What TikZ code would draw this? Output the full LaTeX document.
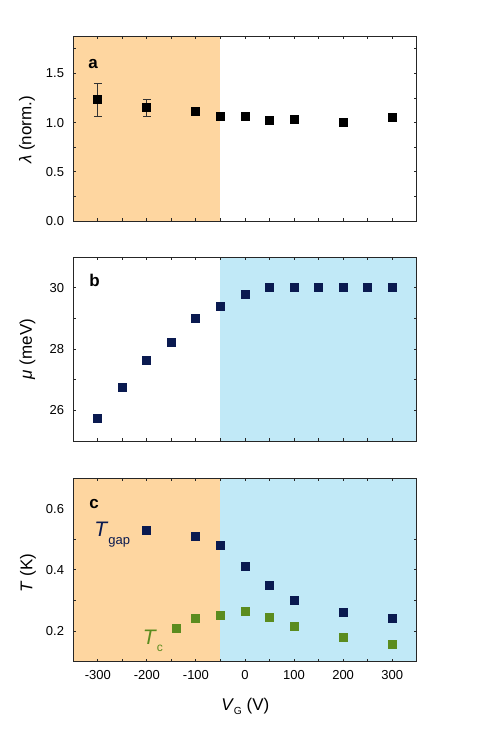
\documentclass[tikz,border=0pt]{standalone}
\usepackage{fontspec}
\setmainfont{Liberation Sans}
\usetikzlibrary{arrows.meta}
\definecolor{shadeorange}{RGB}{254,214,160}
\definecolor{shadeblue}{RGB}{193,233,247}
\definecolor{navy}{RGB}{10,26,80}
\definecolor{leafgreen}{RGB}{91,140,31}
\tikzset{
  mk/.style={rectangle, inner sep=0pt, minimum size=6.75pt},
  ticklab/.style={inner sep=0pt, font=\fontsize{9.75}{10}\selectfont},
  axlab/.style={inner sep=0pt, font=\fontsize{12.75}{13}\selectfont},
  panlab/.style={inner sep=0pt, anchor=base west, font=\fontsize{12.75}{13}\selectfont\bfseries},
  axframe/.style={line width=0.75pt, draw=black!85},
  errbar/.style={line width=0.6pt, draw=black!80, {Bar[width=6pt]}-{Bar[width=6pt]}},
}
\begin{document}
\begin{tikzpicture}[x=0.75pt, y=-0.75pt]
  \useasboundingbox (0,0) rectangle (491,735);
  % panel a
  \begin{scope}[shift={(183.75pt,-165.75pt)}, x=0.36795pt, y=73.8pt]
    \fill[shadeorange] (-350,0) rectangle (-50,1.875);
    \coordinate (e1lo) at (-300,1.064);
    \coordinate (e1hi) at (-300,1.40);
    \coordinate (e2lo) at (-200,1.064);
    \coordinate (e2hi) at (-200,1.237);
    \draw[errbar] (e1lo) -- (e1hi);
    \draw[errbar] (e2lo) -- (e2hi);
    \node[mk, fill=black] (a1) at (-300,1.23) {};
    \node[mk, fill=black] (a2) at (-200,1.151) {};
    \node[mk, fill=black] (a3) at (-100,1.111) {};
    \node[mk, fill=black] (a4) at (-50,1.067) {};
    \node[mk, fill=black] (a5) at (0,1.064) {};
    \node[mk, fill=black] (a6) at (50,1.019) {};
    \node[mk, fill=black] (a7) at (100,1.03) {};
    \node[mk, fill=black] (a8) at (200,1.006) {};
    \node[mk, fill=black] (a9) at (300,1.047) {};
    \foreach \v in {-300,-250,...,300}
      \draw[axframe] (\v,0) -- ++(0pt,2.25pt) (\v,1.875) -- ++(0pt,-2.25pt);
    \foreach \w in {0.25,0.5,...,1.75}
      \draw[axframe] (-350,\w) -- ++(2.25pt,0pt) (350,\w) -- ++(-2.25pt,0pt);
    \draw[axframe] (-350,0) rectangle (350,1.875);
    \foreach \w [count=\i] in {0.0,0.5,1.0,1.5}
      \node[ticklab, anchor=east, xshift=-6.75pt] (tya\i) at (-350,\w) {\w};
  \end{scope}
  % panel b
  \begin{scope}[shift={(183.75pt,-905.81pt)}, x=0.36795pt, y=23pt]
    \fill[shadeblue] (-50,25) rectangle (350,31);
    \node[mk, fill=navy] (b1) at (-300,25.75) {};
    \node[mk, fill=navy] (b2) at (-250,26.74) {};
    \node[mk, fill=navy] (b3) at (-200,27.64) {};
    \node[mk, fill=navy] (b4) at (-150,28.2) {};
    \node[mk, fill=navy] (b5) at (-100,29.0) {};
    \node[mk, fill=navy] (b6) at (-50,29.4) {};
    \node[mk, fill=navy] (b7) at (0,29.78) {};
    \node[mk, fill=navy] (b8) at (50,30) {};
    \node[mk, fill=navy] (b9) at (100,30) {};
    \node[mk, fill=navy] (b10) at (150,30) {};
    \node[mk, fill=navy] (b11) at (200,30) {};
    \node[mk, fill=navy] (b12) at (250,30) {};
    \node[mk, fill=navy] (b13) at (300,30) {};
    \foreach \v in {-300,-250,...,300}
      \draw[axframe] (\v,25) -- ++(0pt,2.25pt) (\v,31) -- ++(0pt,-2.25pt);
    \foreach \w in {26,...,30}
      \draw[axframe] (-350,\w) -- ++(2.25pt,0pt) (350,\w) -- ++(-2.25pt,0pt);
    \draw[axframe] (-350,25) rectangle (350,31);
    \foreach \w [count=\i] in {26,28,30}
      \node[ticklab, anchor=east, xshift=-6.75pt] (tyb\i) at (-350,\w) {\w};
  \end{scope}
  % panel c
  \begin{scope}[shift={(183.75pt,-519.2pt)}, x=0.36795pt, y=229.5pt]
    \fill[shadeorange] (-350,0.1) rectangle (-50,0.7);
    \fill[shadeblue] (-50,0.1) rectangle (350,0.7);
    \node[mk, fill=navy] (g1) at (-200,0.53) {};
    \node[mk, fill=navy] (g2) at (-100,0.51) {};
    \node[mk, fill=navy] (g3) at (-50,0.48) {};
    \node[mk, fill=navy] (g4) at (0,0.41) {};
    \node[mk, fill=navy] (g5) at (50,0.35) {};
    \node[mk, fill=navy] (g6) at (100,0.30) {};
    \node[mk, fill=navy] (g7) at (200,0.26) {};
    \node[mk, fill=navy] (g8) at (300,0.24) {};
    \node[mk, fill=leafgreen] (c1) at (-140,0.21) {};
    \node[mk, fill=leafgreen] (c2) at (-100,0.24) {};
    \node[mk, fill=leafgreen] (c3) at (-50,0.25) {};
    \node[mk, fill=leafgreen] (c4) at (0,0.265) {};
    \node[mk, fill=leafgreen] (c5) at (50,0.245) {};
    \node[mk, fill=leafgreen] (c6) at (100,0.215) {};
    \node[mk, fill=leafgreen] (c7) at (200,0.18) {};
    \node[mk, fill=leafgreen] (c8) at (300,0.155) {};
    \foreach \v in {-300,-250,...,300}
      \draw[axframe] (\v,0.1) -- ++(0pt,2.25pt) (\v,0.7) -- ++(0pt,-2.25pt);
    \foreach \w in {0.2,0.3,...,0.6}
      \draw[axframe] (-350,\w) -- ++(2.25pt,0pt) (350,\w) -- ++(-2.25pt,0pt);
    \draw[axframe] (-350,0.1) rectangle (350,0.7);
    \foreach \w [count=\i] in {0.2,0.4,0.6}
      \node[ticklab, anchor=east, xshift=-6.75pt] (tyc\i) at (-350,\w) {\w};
    \foreach \v [count=\i] in {-300,-200,-100,0,100,200,300}
      \node[ticklab, anchor=north, yshift=-6.2pt] (tx\i) at (\v,0.1) {\v};
  \end{scope}
  % labels
  \node[panlab] (la) at (88,69) {a};
  \node[panlab] (lb) at (89,286) {b};
  \node[panlab] (lc) at (89,508.3) {c};
  \node[axlab, rotate=90] (ya) at (27,130) {\textit{λ} (norm.)};
  \node[axlab, rotate=90] (yb) at (27.5,349) {\textit{μ} (meV)};
  \node[axlab, rotate=90] (yc) at (28,573) {\textit{T} (K)};
  \node[axlab, anchor=base west] (xc) at (221,710.7)
    {\textit{V}\raisebox{-3.2pt}{\fontsize{7.7}{8}\selectfont G} (V)};
  \node[inner sep=0pt, anchor=base west, text=navy, font=\fontsize{15.75}{16}\selectfont] (tgap) at (94,536.7)
    {\textit{T}\raisebox{-5.5pt}{\fontsize{9.75}{10}\selectfont gap}};
  \node[inner sep=0pt, anchor=base west, text=leafgreen, font=\fontsize{15.75}{16}\selectfont] (tc) at (142.5,644.3)
    {\textit{T}\raisebox{-5.5pt}{\fontsize{9}{10}\selectfont c}};
\end{tikzpicture}
\end{document}
